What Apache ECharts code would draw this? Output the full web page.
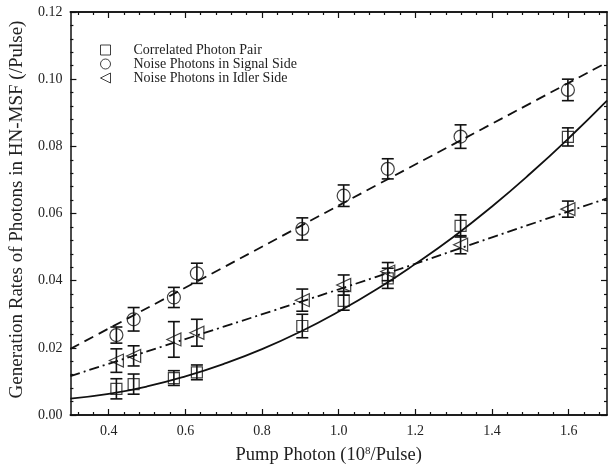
<!DOCTYPE html>
<html>
<head>
<meta charset="utf-8">
<script src="https://cdn.jsdelivr.net/npm/echarts@6/dist/echarts.min.js"></script>
<style>
    html, body { margin: 0; padding: 0; background: #fff; }
    #chart { width: 609px; height: 475px; }
</style>
</head>
<body>
<div id="chart"></div>
<script>
// pump photon number (10^8 / pulse) of the measured points
var pumpX = [0.42, 0.465, 0.57, 0.63, 0.905, 1.013, 1.128, 1.318, 1.598];

// measured rates and error bar half heights
var pairY = [0.0078, 0.0092, 0.0110, 0.0127, 0.0265, 0.0340, 0.0407, 0.0563, 0.0828];
var pairErr = [0.0030, 0.0030, 0.0022, 0.0022, 0.0035, 0.0028, 0.0030, 0.0033, 0.0027];
var signalY = [0.0238, 0.0285, 0.0350, 0.0422, 0.0554, 0.0653, 0.0733, 0.0829, 0.0968];
var signalErr = [0.0024, 0.0035, 0.0030, 0.0030, 0.0033, 0.0032, 0.0030, 0.0035, 0.0032];
var idlerY = [0.0162, 0.0176, 0.0225, 0.0245, 0.0342, 0.0387, 0.0427, 0.0507, 0.0613];
var idlerErr = [0.0035, 0.0030, 0.0053, 0.0040, 0.0033, 0.0030, 0.0027, 0.0027, 0.0024];

// fitted curves
var pairFitX = [0.3, 0.4, 0.5, 0.6, 0.7, 0.8, 0.9, 1.0, 1.1, 1.2, 1.3, 1.4, 1.5, 1.6, 1.7];
var pairFitY = [0.0049, 0.0063, 0.0085, 0.0115, 0.0152, 0.0196, 0.0248, 0.0308, 0.0375, 0.0450, 0.0531, 0.0621, 0.0719, 0.0824, 0.0936];
var signalFitX = [0.3, 0.7, 1.1, 1.5, 1.7];
var signalFitY = [0.0197, 0.0440, 0.0685, 0.0928, 0.1050];
var idlerFitX = [0.3, 0.7, 1.1, 1.4, 1.7];
var idlerFitY = [0.0116, 0.0263, 0.0412, 0.0529, 0.0645];

// axis ticks
var xTicks = [0.4, 0.6, 0.8, 1.0, 1.2, 1.4, 1.6];
var xMinorTicks = [0.32, 0.36, 0.44, 0.48, 0.52, 0.56, 0.64, 0.68, 0.72, 0.76, 0.84, 0.88, 0.92, 0.96,
    1.04, 1.08, 1.12, 1.16, 1.24, 1.28, 1.32, 1.36, 1.44, 1.48, 1.52, 1.56, 1.64, 1.68];

var names = ['Correlated Photon Pair', 'Noise Photons in Signal Side', 'Noise Photons in Idler Side'];

var font = '"Liberation Serif", "Times New Roman", serif';
var ink = '#111';

function zip(xs, ys) {
    return xs.map(function (x, i) { return [x, ys[i]]; });
}

function errData(ys, errs) {
    return pumpX.map(function (x, i) { return [x, ys[i] - errs[i], ys[i] + errs[i]]; });
}

function errorBars(params, api) {
    var lo = api.coord([api.value(0), api.value(1)]);
    var hi = api.coord([api.value(0), api.value(2)]);
    var w = 6;
    var style = {stroke: ink, lineWidth: 1.6};
    return {
        type: 'group',
        children: [
            {type: 'line', shape: {x1: lo[0], y1: lo[1], x2: hi[0], y2: hi[1]}, style: style},
            {type: 'line', shape: {x1: lo[0] - w, y1: lo[1], x2: lo[0] + w, y2: lo[1]}, style: style},
            {type: 'line', shape: {x1: hi[0] - w, y1: hi[1], x2: hi[0] + w, y2: hi[1]}, style: style}
        ]
    };
}

function xAxisPart(position, ticks, len, withLabels) {
    var axis = {
        type: 'value',
        position: position,
        min: 0.3,
        max: 1.7,
        axisLine: {show: true, lineStyle: {color: ink, width: 1.5}},
        axisTick: {show: true, inside: true, length: len, customValues: ticks, lineStyle: {color: ink, width: 1.2}},
        axisLabel: {show: false},
        splitLine: {show: false}
    };
    if (withLabels) {
        axis.axisLabel = {
            show: true,
            customValues: xTicks,
            margin: 9,
            color: '#222',
            fontFamily: font,
            fontSize: 14,
            formatter: function (v) { return v.toFixed(1); }
        };
        axis.name = '{a|Pump Photon (10}{s|8}{a|/Pulse)}';
        axis.nameLocation = 'middle';
        axis.nameGap = 31;
        axis.nameTextStyle = {
            color: '#222',
            fontFamily: font,
            fontSize: 18.5,
            padding: [0, 20, 0, 0],
            rich: {
                a: {fontFamily: font, fontSize: 18.5, color: '#222'},
                s: {fontFamily: font, fontSize: 11, color: '#222', verticalAlign: 'top'}
            }
        };
    }
    return axis;
}

function yAxisPart(position, withLabels) {
    var axis = {
        type: 'value',
        position: position,
        min: 0,
        max: 0.12,
        interval: 0.02,
        axisLine: {show: true, lineStyle: {color: ink, width: 1.5}},
        axisTick: {show: true, inside: true, length: 6, lineStyle: {color: ink, width: 1.2}},
        minorTick: {show: true, splitNumber: 5, length: 3, lineStyle: {color: ink, width: 1.2}},
        axisLabel: {show: false},
        splitLine: {show: false},
        minorSplitLine: {show: false}
    };
    if (withLabels) {
        axis.axisLabel = {
            show: true,
            margin: 8,
            color: '#222',
            fontFamily: font,
            fontSize: 14,
            formatter: function (v) { return v.toFixed(2); }
        };
        axis.name = 'Generation Rates of Photons in HN-MSF (/Pulse)';
        axis.nameLocation = 'middle';
        axis.nameRotate = 90;
        axis.nameGap = 38;
        axis.nameTextStyle = {color: '#222', fontFamily: font, fontSize: 19, padding: [0, 0, 0, 8]};
    }
    return axis;
}

var pointStyle = {color: 'rgba(255,255,255,0)', borderColor: ink, borderWidth: 1.2};

var option = {
    animation: false,
    backgroundColor: '#fff',
    grid: {left: 63, right: 2, top: 12, bottom: 60},
    legend: {
        orient: 'vertical',
        left: 95,
        top: 38,
        itemWidth: 10,
        itemHeight: 10,
        itemGap: 0,
        data: [
            {name: names[0], icon: 'rect'},
            {name: names[1], icon: 'circle'},
            {name: names[2], icon: 'path://M11,0L0,5.5L11,11Z'}
        ],
        itemStyle: {color: 'rgba(255,255,255,0)', borderColor: ink, borderWidth: 1},
        textStyle: {color: '#222', fontFamily: font, fontSize: 14, lineHeight: 13.3, padding: [0, 0, 0, 18]}
    },
    xAxis: [
        xAxisPart('bottom', xTicks, 6, true),
        xAxisPart('bottom', xMinorTicks, 3, false),
        xAxisPart('top', xTicks, 6, false),
        xAxisPart('top', xMinorTicks, 3, false)
    ],
    yAxis: [
        yAxisPart('left', true),
        yAxisPart('right', false)
    ],
    series: [
        {
            type: 'line', data: zip(pairFitX, pairFitY), smooth: true, showSymbol: false, silent: true,
            lineStyle: {color: ink, width: 1.8}
        },
        {
            type: 'line', data: zip(signalFitX, signalFitY), smooth: true, showSymbol: false, silent: true,
            lineStyle: {color: ink, width: 1.8, type: [10, 6]}
        },
        {
            type: 'line', data: zip(idlerFitX, idlerFitY), smooth: true, showSymbol: false, silent: true,
            lineStyle: {color: ink, width: 1.8, type: [10, 4, 2, 4]}
        },
        {type: 'custom', renderItem: errorBars, data: errData(pairY, pairErr), silent: true},
        {type: 'custom', renderItem: errorBars, data: errData(signalY, signalErr), silent: true},
        {type: 'custom', renderItem: errorBars, data: errData(idlerY, idlerErr), silent: true},
        {
            name: names[0], type: 'scatter', data: zip(pumpX, pairY),
            symbol: 'rect', symbolSize: 11, itemStyle: pointStyle
        },
        {
            name: names[1], type: 'scatter', data: zip(pumpX, signalY),
            symbol: 'circle', symbolSize: 13, itemStyle: pointStyle
        },
        {
            name: names[2], type: 'scatter', data: zip(pumpX, idlerY),
            symbol: 'triangle', symbolRotate: 90, symbolSize: [13, 14], itemStyle: pointStyle
        }
    ]
};

var chart = echarts.init(document.getElementById('chart'));
chart.setOption(option);
</script>
</body>
</html>
